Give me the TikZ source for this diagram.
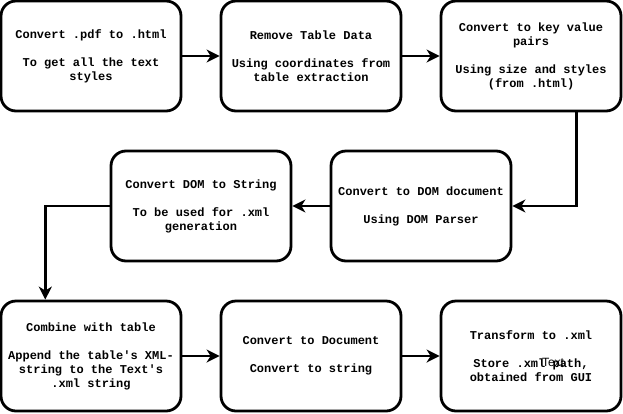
\documentclass[tikz,border=0pt]{standalone}
\usepackage{fontspec}
\setmonofont{Liberation Mono}
\setsansfont{Liberation Sans}
\usepackage{tikz}
\usetikzlibrary{arrows.meta, calc}
\tikzset{
    passo/.style = {draw, line width = 2.8pt, rounded corners = 15pt,
        minimum width = 180pt, minimum height = 110pt, align = center,
        font = \ttfamily\bfseries\fontsize{12}{14}\selectfont},
    freccia/.style = {line width = 2.8pt, -{Stealth[length = 13pt, width = 13pt, inset = 4pt]}}
}

\begin{document}
\begin{tikzpicture}[x = 1pt, y = -1pt]
    \useasboundingbox (0,0) rectangle (623,413);
    % prima riga
    \node[passo] (pdfhtml) at (91,56) {Convert .pdf to .html\\[14pt]To get all the text\\styles};
    \node[passo] (notable) at (311,56) {Remove Table Data\\[14pt]Using coordinates from\\table extraction};
    \node[passo] (keyvalue) at (531,56) {Convert to key value\\pairs\\[14pt]Using size and styles\\(from .html)};
    % seconda riga
    \node[passo] (domdoc) at (421,206) {Convert to DOM document\\[14pt]Using DOM Parser};
    \node[passo] (domstr) at (201,206) {Convert DOM to String\\[14pt]To be used for .xml\\generation};
    % terza riga
    \node[passo] (combine) at (91,356) {Combine with table\\[14pt]Append the table's XML-\\string to the Text's\\.xml string};
    \node[passo] (todoc) at (311,356) {Convert to Document\\[14pt]Convert to string};
    \node[passo] (toxml) at (531,356) {Transform to .xml\\[14pt]Store .xml path,\\obtained from GUI};
    \node[font = \sffamily\fontsize{12}{14}\selectfont] (testo) at (553,362) {Text};
    % punti di partenza/arrivo fuori centro
    \coordinate (kvout) at ($(keyvalue.south)!0.5!(keyvalue.south east)$);
    \coordinate (combin) at ($(combine.north)!0.5!(combine.north west)$);
    % frecce
    \draw[freccia] (pdfhtml) -- (notable);
    \draw[freccia] (notable) -- (keyvalue);
    \draw[freccia] (kvout) |- (domdoc.east);
    \draw[freccia] (domdoc) -- (domstr);
    \draw[freccia] (domstr.west) -| (combin);
    \draw[freccia] (combine) -- (todoc);
    \draw[freccia] (todoc) -- (toxml);
\end{tikzpicture}
\end{document}
